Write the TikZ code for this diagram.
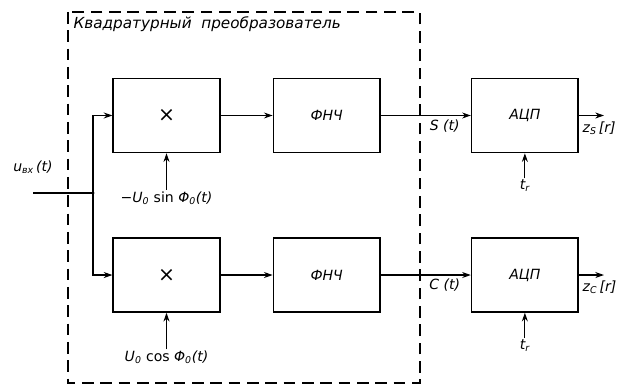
\documentclass[tikz,border=0pt]{standalone}
\usepackage{fontspec}
\setmainfont{DejaVu Sans}
\usepackage{tikz}
\usetikzlibrary{arrows.meta,positioning}

\begin{document}
\begin{tikzpicture}[
    >={Stealth[length=2.6mm,width=1.8mm]},
    font=\itshape,
    blok/.style={
        rectangle,
        draw,
        line width=1.3pt,
        minimum width=3.2cm,
        minimum height=2.22cm,
        align=center,
        font=\itshape\large
    },
    link/.style={->, line width=0.9pt},
    lbl/.style={font=\itshape\large, inner sep=1pt}
]
\useasboundingbox (0,0) rectangle (18.9,-11.55);

% quadrature converter frame
\draw[line width=0.9pt, dash pattern=on 3.5mm off 2mm] (2.04,-0.36) rectangle (12.6,-11.49);
\node[anchor=north west, inner sep=0pt, font=\itshape\fontsize{13}{15}\selectfont] (title) at (2.2,-0.5) {Квадратурный\ \ преобразователь};

% upper channel
\node[blok] (mul1) at (4.995,-3.465) {\upshape\LARGE ×};
\node[blok, right=1.56cm of mul1] (fnch1) {ФНЧ};
\node[blok, right=2.7cm of fnch1] (adc1) {АЦП};

% lower channel
\node[blok, below=2.52cm of mul1] (mul2) {\upshape\LARGE ×};
\node[blok, right=1.56cm of mul2] (fnch2) {ФНЧ};
\node[blok, right=2.7cm of fnch2] (adc2) {АЦП};

% input and split
\coordinate (in) at (0.99,-5.79);
\coordinate (split) at (2.79,-5.79);
\node[lbl, above=0.55cm of in] (uin) {\textit{u}\textsubscript{вх}\,(\textit{t})};
\draw[line width=0.9pt] (in) -- (split);
\fill (split) circle (1.3pt);
\draw[link] (split) |- (mul1);
\draw[link] (split) |- (mul2);

% reference signals
\node[lbl, below=1.1cm of mul1] (sinref) {−\textit{U}\textsubscript{0} {\upshape sin} \textit{Φ}\textsubscript{0}(\textit{t})};
\node[lbl, below=1.1cm of mul2] (cosref) {\textit{U}\textsubscript{0} {\upshape cos} \textit{Φ}\textsubscript{0}(\textit{t})};
\draw[link] (sinref) -- (mul1);
\draw[link] (cosref) -- (mul2);

% filters and converters
\draw[link] (mul1) -- (fnch1);
\draw[link] (mul2) -- (fnch2);
\draw[link] (fnch1) -- node[lbl, pos=0.71, below=2pt]{\textit{S} (\textit{t})} (adc1);
\draw[link] (fnch2) -- node[lbl, pos=0.71, below=2pt]{\textit{C} (\textit{t})} (adc2);

% sampling instants
\node[lbl, below=0.75cm of adc1] (tr1) {\textit{t}\textsubscript{\textit{r}}};
\node[lbl, below=0.75cm of adc2] (tr2) {\textit{t}\textsubscript{\textit{r}}};
\draw[link] (tr1) -- (adc1);
\draw[link] (tr2) -- (adc2);

% outputs
\coordinate[right=0.75cm of adc1.east] (outs);
\coordinate[right=0.75cm of adc2.east] (outc);
\draw[link] (adc1) -- (outs);
\draw[link] (adc2) -- (outc);
\node[lbl, anchor=north west] (zs) at ([xshift=2pt,yshift=-4pt]adc1.east) {\textit{z}\textsubscript{S}\,[\textit{r}]};
\node[lbl, anchor=north west] (zc) at ([xshift=2pt,yshift=-4pt]adc2.east) {\textit{z}\textsubscript{C}\,[\textit{r}]};
\end{tikzpicture}
\end{document}
